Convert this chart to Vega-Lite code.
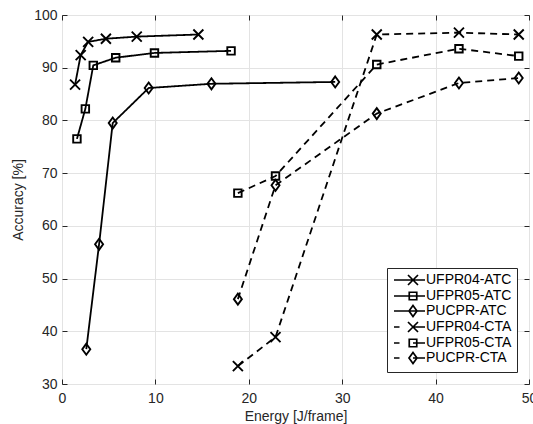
{
  "$schema": "https://vega.github.io/schema/vega-lite/v6.json",
  "autosize": "none",
  "width": 467,
  "height": 369,
  "padding": {"left": 62, "top": 15, "right": 4, "bottom": 40},
  "background": "white",
  "config": {
    "font": "Liberation Sans",
    "view": {"stroke": "#262626", "strokeWidth": 1},
    "axis": {
      "labelFontSize": 14,
      "labelColor": "#262626",
      "titleFontSize": 14,
      "titleFontWeight": "normal",
      "titleColor": "#262626",
      "tickColor": "#262626",
      "tickSize": -5,
      "tickWidth": 1,
      "domain": false,
      "gridColor": "#e3e3e3",
      "gridWidth": 1,
      "labelFlush": false,
      "labelOverlap": false
    }
  },
  "data": {
    "values": [
      {"series": "UFPR04-ATC", "dataset": "UFPR04", "method": "ATC", "energy": 1.4, "accuracy": 86.8},
      {"series": "UFPR04-ATC", "dataset": "UFPR04", "method": "ATC", "energy": 2.0, "accuracy": 92.4},
      {"series": "UFPR04-ATC", "dataset": "UFPR04", "method": "ATC", "energy": 2.8, "accuracy": 94.9},
      {"series": "UFPR04-ATC", "dataset": "UFPR04", "method": "ATC", "energy": 4.7, "accuracy": 95.5},
      {"series": "UFPR04-ATC", "dataset": "UFPR04", "method": "ATC", "energy": 8.0, "accuracy": 95.9},
      {"series": "UFPR04-ATC", "dataset": "UFPR04", "method": "ATC", "energy": 14.6, "accuracy": 96.3},
      {"series": "UFPR05-ATC", "dataset": "UFPR05", "method": "ATC", "energy": 1.6, "accuracy": 76.5},
      {"series": "UFPR05-ATC", "dataset": "UFPR05", "method": "ATC", "energy": 2.5, "accuracy": 82.2},
      {"series": "UFPR05-ATC", "dataset": "UFPR05", "method": "ATC", "energy": 3.35, "accuracy": 90.45},
      {"series": "UFPR05-ATC", "dataset": "UFPR05", "method": "ATC", "energy": 5.75, "accuracy": 91.9},
      {"series": "UFPR05-ATC", "dataset": "UFPR05", "method": "ATC", "energy": 9.9, "accuracy": 92.8},
      {"series": "UFPR05-ATC", "dataset": "UFPR05", "method": "ATC", "energy": 18.1, "accuracy": 93.2},
      {"series": "PUCPR-ATC", "dataset": "PUCPR", "method": "ATC", "energy": 2.6, "accuracy": 36.6},
      {"series": "PUCPR-ATC", "dataset": "PUCPR", "method": "ATC", "energy": 3.97, "accuracy": 56.5},
      {"series": "PUCPR-ATC", "dataset": "PUCPR", "method": "ATC", "energy": 5.43, "accuracy": 79.5},
      {"series": "PUCPR-ATC", "dataset": "PUCPR", "method": "ATC", "energy": 9.28, "accuracy": 86.15},
      {"series": "PUCPR-ATC", "dataset": "PUCPR", "method": "ATC", "energy": 16.0, "accuracy": 86.95},
      {"series": "PUCPR-ATC", "dataset": "PUCPR", "method": "ATC", "energy": 29.25, "accuracy": 87.3},
      {"series": "UFPR04-CTA", "dataset": "UFPR04", "method": "CTA", "energy": 18.83, "accuracy": 33.4},
      {"series": "UFPR04-CTA", "dataset": "UFPR04", "method": "CTA", "energy": 22.86, "accuracy": 38.9},
      {"series": "UFPR04-CTA", "dataset": "UFPR04", "method": "CTA", "energy": 33.7, "accuracy": 96.3},
      {"series": "UFPR04-CTA", "dataset": "UFPR04", "method": "CTA", "energy": 42.5, "accuracy": 96.65},
      {"series": "UFPR04-CTA", "dataset": "UFPR04", "method": "CTA", "energy": 48.9, "accuracy": 96.3},
      {"series": "UFPR05-CTA", "dataset": "UFPR05", "method": "CTA", "energy": 18.83, "accuracy": 66.2},
      {"series": "UFPR05-CTA", "dataset": "UFPR05", "method": "CTA", "energy": 22.86, "accuracy": 69.45},
      {"series": "UFPR05-CTA", "dataset": "UFPR05", "method": "CTA", "energy": 33.7, "accuracy": 90.6},
      {"series": "UFPR05-CTA", "dataset": "UFPR05", "method": "CTA", "energy": 42.5, "accuracy": 93.6},
      {"series": "UFPR05-CTA", "dataset": "UFPR05", "method": "CTA", "energy": 48.9, "accuracy": 92.2},
      {"series": "PUCPR-CTA", "dataset": "PUCPR", "method": "CTA", "energy": 18.83, "accuracy": 46.1},
      {"series": "PUCPR-CTA", "dataset": "PUCPR", "method": "CTA", "energy": 22.86, "accuracy": 67.7},
      {"series": "PUCPR-CTA", "dataset": "PUCPR", "method": "CTA", "energy": 33.7, "accuracy": 81.3},
      {"series": "PUCPR-CTA", "dataset": "PUCPR", "method": "CTA", "energy": 42.5, "accuracy": 87.1},
      {"series": "PUCPR-CTA", "dataset": "PUCPR", "method": "CTA", "energy": 48.9, "accuracy": 88.05}
    ]
  },
  "resolve": {
    "axis": {"x": "independent", "y": "independent"},
    "scale": {"shape": "independent"},
    "legend": {"shape": "independent"}
  },
  "layer": [
    {
      "mark": {"type": "line", "color": "black", "strokeWidth": 1.8},
      "encoding": {
        "x": {"field": "energy", "type": "quantitative", "scale": {"domain": [0, 50], "nice": false, "zero": false},
          "axis": {"orient": "bottom", "values": [0, 10, 20, 30, 40, 50], "grid": true, "labelPadding": 12, "title": "Energy [J/frame]", "titlePadding": 4}},
        "y": {"field": "accuracy", "type": "quantitative", "scale": {"domain": [30, 100], "nice": false, "zero": false},
          "axis": {"orient": "left", "values": [30, 40, 50, 60, 70, 80, 90, 100], "grid": true, "labelPadding": 10, "title": "Accuracy [%]", "titlePadding": 8}},
        "detail": {"field": "series"},
        "strokeDash": {"field": "method", "type": "nominal", "scale": {"domain": ["ATC", "CTA"], "range": [[1, 0], [7, 5]]}, "legend": null}
      }
    },
    {
      "mark": {"type": "point", "filled": false, "color": "black", "strokeWidth": 1.9, "opacity": 1, "size": 100},
      "encoding": {
        "x": {"field": "energy", "type": "quantitative",
          "axis": {"orient": "top", "values": [0, 10, 20, 30, 40, 50], "grid": false, "labels": false, "title": null}},
        "y": {"field": "accuracy", "type": "quantitative",
          "axis": {"orient": "right", "values": [30, 40, 50, 60, 70, 80, 90, 100], "grid": false, "labels": false, "title": null}},
        "shape": {"field": "dataset", "type": "nominal", "legend": null,
          "scale": {"domain": ["UFPR04", "UFPR05", "PUCPR"],
            "range": ["M-1,-1L1,1M-1,1L1,-1", "M-0.75,-0.75L0.75,-0.75L0.75,0.75L-0.75,0.75Z", "M0,-1.1L0.8,0L0,1.1L-0.8,0Z"]}}
      }
    },
    {
      "mark": {"type": "point", "filled": false, "color": "black", "strokeWidth": 1.7, "opacity": 0, "size": 100},
      "encoding": {
        "x": {"field": "energy", "type": "quantitative", "axis": null},
        "y": {"field": "accuracy", "type": "quantitative", "axis": null},
        "shape": {"field": "series", "type": "nominal",
          "scale": {"domain": ["UFPR04-ATC", "UFPR05-ATC", "PUCPR-ATC", "UFPR04-CTA", "UFPR05-CTA", "PUCPR-CTA"],
            "range": [
              "M-3.8,0L2.4,0M-1,-1L1,1M-1,1L1,-1",
              "M-3.8,0L2.4,0M-0.75,-0.75L0.75,-0.75L0.75,0.75L-0.75,0.75Z",
              "M-3.8,0L2.4,0M0,-1.1L0.8,0L0,1.1L-0.8,0Z",
              "M-3.8,0L-2.7,0M0,0L2.4,0M-1,-1L1,1M-1,1L1,-1",
              "M-3.8,0L-2.7,0M0,0L2.4,0M-0.75,-0.75L0.75,-0.75L0.75,0.75L-0.75,0.75Z",
              "M-3.8,0L-2.7,0M0,0L2.4,0M0,-1.1L0.8,0L0,1.1L-0.8,0Z"
            ]},
          "legend": {
            "title": null,
            "orient": "bottom-right",
            "offset": 12,
            "strokeColor": "#262626",
            "fillColor": "white",
            "padding": 5,
            "rowPadding": -3,
            "labelFontSize": 14,
            "labelColor": "black",
            "labelLimit": 0,
            "symbolSize": 100,
            "symbolOpacity": 1,
            "symbolStrokeColor": "black",
            "symbolFillColor": "transparent",
            "symbolStrokeWidth": 1.7,
            "symbolOffset": 14,
            "labelOffset": 6
          }
        }
      }
    }
  ]
}
